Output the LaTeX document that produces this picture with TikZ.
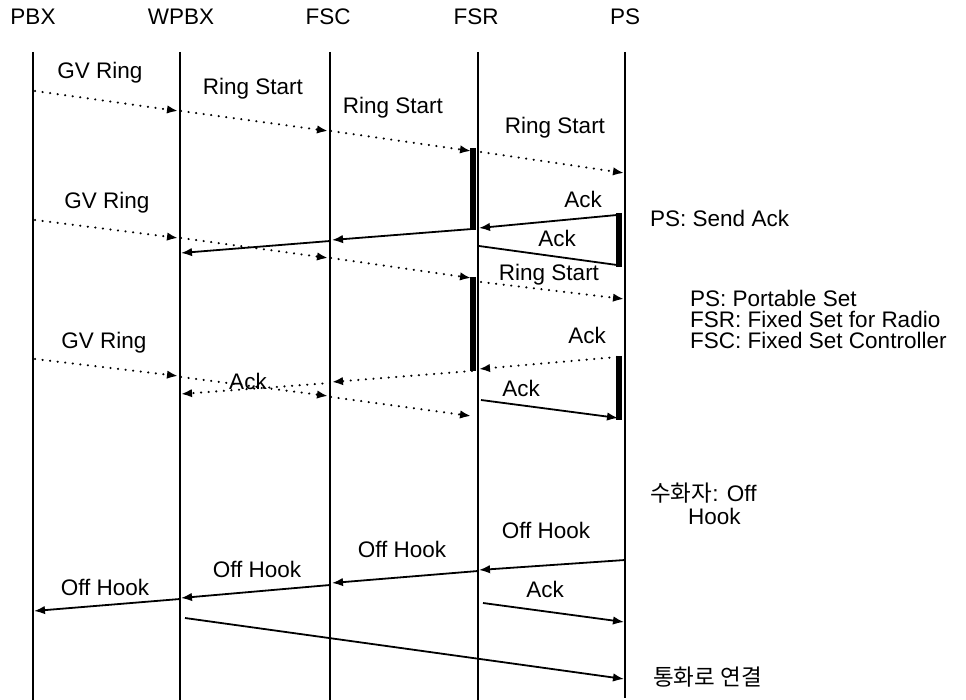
\documentclass[tikz,border=0pt]{standalone}
\usepackage{fontspec}
\setmainfont{Liberation Sans}
\newfontfamily\krfont{Noto Sans CJK KR}
\usetikzlibrary{arrows.meta}
\begin{document}
\begin{tikzpicture}[x=1pt,y=-1pt,
  txt/.style={font=\fontsize{22.5}{27}\selectfont, inner sep=0pt, text=black},
  life/.style={line width=1.9pt},
  actbar/.style={line width=5.5pt},
  sol/.style={line width=1.8pt},
  arr/.style={sol,-{Latex[length=11pt,width=8.5pt]}},
  dotline/.style={line width=2.3pt, dash pattern=on 0.1pt off 7.5pt, line cap=round},
  darr/.style={dotline,-{Latex[length=11pt,width=8.5pt]}},
]
\useasboundingbox (0,0) rectangle (966,700);

% headers
\node[txt] (hPBX)  at (33,17)  {PBX};
\node[txt] (hWPBX) at (181,17) {WPBX};
\node[txt] (hFSC)  at (328,17) {FSC};
\node[txt] (hFSR)  at (476,17) {FSR};
\node[txt] (hPS)   at (625,17) {PS};

% lifelines
\coordinate (PBXt) at (33,52);   \coordinate (PBXb) at (33,700);
\coordinate (WPBXt) at (180,52); \coordinate (WPBXb) at (180,700);
\coordinate (FSCt) at (330,52);  \coordinate (FSCb) at (330,700);
\coordinate (FSRt) at (478,52);  \coordinate (FSRb) at (478,700);
\coordinate (PSt) at (625,52);   \coordinate (PSb) at (625,698);
\draw[life] (PBXt) -- (PBXb);
\draw[life] (WPBXt) -- (WPBXb);
\draw[life] (FSCt) -- (FSCb);
\draw[life] (FSRt) -- (FSRb);
\draw[life] (PSt) -- (PSb);

% activation bars
\coordinate (b1a) at (473,148); \coordinate (b1b) at (473,230);
\coordinate (b2a) at (473,277); \coordinate (b2b) at (473,371);
\coordinate (b3a) at (619,213); \coordinate (b3b) at (619,267);
\coordinate (b4a) at (619,356); \coordinate (b4b) at (619,420);
\draw[actbar] (b1a) -- (b1b);
\draw[actbar] (b2a) -- (b2b);
\draw[actbar] (b3a) -- (b3b);
\draw[actbar] (b4a) -- (b4b);

% message end points
\coordinate (m1a) at (35,91);   \coordinate (m1b) at (178,111);
\coordinate (m2a) at (181,111); \coordinate (m2b) at (328,131);
\coordinate (m3a) at (331,131); \coordinate (m3b) at (471,151);
\coordinate (m4a) at (481,152); \coordinate (m4b) at (624,173);
\coordinate (m5a) at (617,215); \coordinate (m5b) at (479,228);
\coordinate (m6a) at (479,246); \coordinate (m6b) at (617,265);
\coordinate (m7a) at (472,229); \coordinate (m7b) at (332,240);
\coordinate (m7c) at (330,241); \coordinate (m7d) at (181,253);
\coordinate (m8a) at (35,220);  \coordinate (m8b) at (178,238);
\coordinate (m9a) at (181,238); \coordinate (m9b) at (328,258);
\coordinate (m10a) at (331,258); \coordinate (m10b) at (471,278);
\coordinate (m11a) at (481,282); \coordinate (m11b) at (624,299);
\coordinate (m12a) at (617,357); \coordinate (m12b) at (479,369);
\coordinate (m13a) at (472,371); \coordinate (m13b) at (332,382);
\coordinate (m14a) at (330,383); \coordinate (m14b) at (181,394);
\coordinate (m15a) at (35,359);  \coordinate (m15b) at (178,376);
\coordinate (m16a) at (181,377); \coordinate (m16b) at (328,396);
\coordinate (m17a) at (331,397); \coordinate (m17b) at (471,416);
\coordinate (m18a) at (481,400); \coordinate (m18b) at (618,418);
\coordinate (m19a) at (625,560); \coordinate (m19b) at (479,570);
\coordinate (m20a) at (478,571); \coordinate (m20b) at (332,583);
\coordinate (m21a) at (330,585); \coordinate (m21b) at (181,598);
\coordinate (m22a) at (180,599); \coordinate (m22b) at (34,611);
\coordinate (m23a) at (483,603); \coordinate (m23b) at (624,622);
\coordinate (m24a) at (185,618); \coordinate (m24b) at (624,679);

% messages
\draw[darr] (m1a) -- (m1b);
\draw[darr] (m2a) -- (m2b);
\draw[darr] (m3a) -- (m3b);
\draw[darr] (m4a) -- (m4b);
\draw[arr] (m5a) -- (m5b);
\draw[sol] (m6a) -- (m6b);
\draw[arr] (m7a) -- (m7b);
\draw[arr] (m7c) -- (m7d);
\draw[darr] (m8a) -- (m8b);
\draw[darr] (m9a) -- (m9b);
\draw[darr] (m10a) -- (m10b);
\draw[darr] (m11a) -- (m11b);
\draw[darr] (m12a) -- (m12b);
\draw[darr] (m13a) -- (m13b);
\draw[darr] (m14a) -- (m14b);
\draw[darr] (m15a) -- (m15b);
\draw[darr] (m16a) -- (m16b);
\draw[darr] (m17a) -- (m17b);
\draw[arr] (m18a) -- (m18b);
\draw[arr] (m19a) -- (m19b);
\draw[arr] (m20a) -- (m20b);
\draw[arr] (m21a) -- (m21b);
\draw[arr] (m22a) -- (m22b);
\draw[arr] (m23a) -- (m23b);
\draw[arr] (m24a) -- (m24b);

% message labels
\node[txt] (l1)  at (100,73)  {GV Ring};
\node[txt] (l2)  at (253,89)  {Ring Start};
\node[txt] (l3)  at (393,108) {Ring Start};
\node[txt] (l4)  at (555,128) {Ring Start};
\node[txt] (l5)  at (583,199) {Ack};
\node[txt] (l6)  at (557,238) {Ack};
\node[txt] (l8)  at (107,203) {GV Ring};
\node[txt] (l11) at (549,275) {Ring Start};
\node[txt] (l12) at (587,335) {Ack};
\node[txt] (l14) at (248,381) {Ack};
\node[txt] (l15) at (104,343) {GV Ring};
\node[txt] (l18) at (521,388) {Ack};
\node[txt] (l19) at (546,530) {Off Hook};
\node[txt] (l20) at (402,549) {Off Hook};
\node[txt] (l21) at (257,569) {Off Hook};
\node[txt] (l22) at (105,587) {Off Hook};
\node[txt] (l23) at (545,589) {Ack};

% side notes
\node[txt, anchor=west] (n1) at (650,218) {PS: Send Ack};
\node[txt, anchor=west] (n2) at (690,298) {PS: Portable Set};
\node[txt, anchor=west] (n3) at (690,319) {FSR: Fixed Set for Radio};
\node[txt, anchor=west] (n4) at (690,340) {FSC: Fixed Set Controller};
\node[txt, anchor=west] (n5) at (650,493) {{\krfont 수화자}: Off};
\node[txt, anchor=west] (n6) at (688,516) {Hook};
\node[txt, anchor=west] (n7) at (653,677) {\krfont 통화로 연결};
\end{tikzpicture}
\end{document}
